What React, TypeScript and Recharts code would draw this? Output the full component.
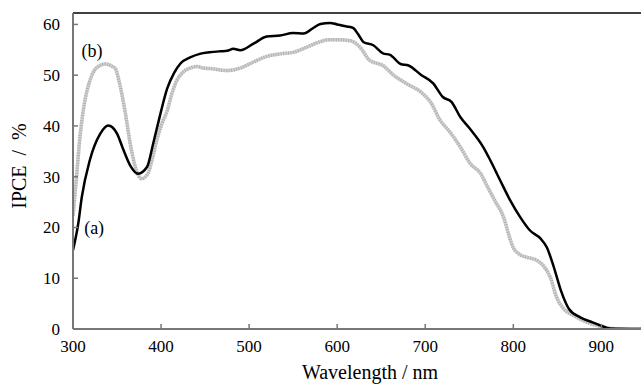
import React from 'react';
import { LineChart, Line, XAxis, YAxis, ReferenceLine, ReferenceDot } from 'recharts';

const waveA = [300, 306, 310, 319, 331, 340, 345, 350, 357, 365, 374, 384, 391, 398, 407, 415, 422, 433, 444, 455, 467, 475, 482, 490, 505, 520, 535, 550, 562, 572, 581, 592, 600, 611, 618, 624, 630, 641, 652, 660, 672, 681, 695, 709, 720, 730, 740, 751, 766, 774, 785, 796, 808, 819, 831, 838, 846, 854, 863, 876, 890, 899, 910, 945];
const ipceA = [15.5, 20.8, 26, 33.2, 38.5, 40.1, 39.7, 38.5, 35.4, 32.2, 30.6, 31.9, 36.5, 41.5, 47.4, 50.5, 52.3, 53.5, 54.2, 54.5, 54.7, 54.8, 55.2, 54.9, 56.2, 57.6, 57.8, 58.3, 58.2, 59.2, 60.1, 60.3, 60.0, 59.6, 59.3, 58.0, 56.5, 55.9, 54.3, 54.0, 52.2, 51.9, 50.1, 48.4, 45.7, 44.7, 41.7, 39.4, 35.8, 33.2, 29.3, 25.5, 22.0, 19.4, 17.8, 16.1, 12.2, 7.6, 4.0, 2.3, 1.3, 0.7, 0.1, 0];

const waveB = [300, 304, 308, 312, 316, 321, 327, 337, 344, 348, 353, 359, 365, 372, 378, 385, 390, 395, 401, 407, 412, 418, 425, 433, 441, 448, 456, 475, 490, 505, 520, 535, 550, 565, 581, 590, 600, 615, 626, 637, 652, 664, 679, 695, 706, 717, 728, 740, 751, 763, 771, 779, 789, 795, 800, 808, 816, 827, 834, 842, 849, 857, 868, 884, 899, 910, 945];
const ipceB = [22.3, 30, 38, 43.5, 47, 49.8, 51.5, 52.2, 51.8, 51.3, 48.3, 43, 36.5, 31.2, 29.6, 30.6, 33.5, 37.1, 40.5, 43, 46.2, 49, 50.6, 51.4, 51.7, 51.4, 51.3, 50.9, 51.4, 52.6, 53.7, 54.2, 54.5, 55.5, 56.6, 57.0, 57.0, 56.8, 55.5, 52.9, 51.9, 50.0, 48.3, 46.7, 44.7, 41.1, 38.8, 35.8, 32.6, 30.6, 27.9, 25.3, 22.0, 18.5, 16.0, 14.6, 14.1, 13.5, 12.5, 10.2, 6.3, 4.0, 2.7, 1.3, 0.5, 0.1, 0];

const xTicks = [300, 400, 500, 600, 700, 800, 900];
const yTicks = [0, 10, 20, 30, 40, 50, 60];

const dataA = waveA.map((w, i) => ({ w, v: ipceA[i] }));
const dataB = waveB.map((w, i) => ({ w, v: ipceB[i] }));

const FONT = "'Liberation Serif', 'Times New Roman', serif";
const AXIS = '#777777';
const txt: React.CSSProperties = { fontFamily: FONT };

const XTick = (props: any) => {
  const { x, y, payload } = props;
  return (
    <g>
      <line x1={x} y1={y} x2={x} y2={y - 5} stroke={AXIS} strokeWidth={1.5} />
      <text x={x} y={y + 23} textAnchor="middle" style={txt} fontSize={17} fill="#000">{payload.value}</text>
    </g>
  );
};

const YTick = (props: any) => {
  const { x, y, payload } = props;
  return (
    <g>
      {payload.value !== 0 && <line x1={x} y1={y} x2={x + 5} y2={y} stroke={AXIS} strokeWidth={1.5} />}
      <text x={x - 13} y={y + 6} textAnchor="end" style={txt} fontSize={17} fill="#000">{payload.value}</text>
    </g>
  );
};

export default function App() {
  return (
    <div style={{ position: 'absolute', left: 0, top: 0, width: 642, height: 386, background: '#fff', fontFamily: FONT }}>
      <LineChart width={642} height={386} margin={{ top: 13, right: 1, bottom: 0, left: 0 }} style={{ fontFamily: FONT }}>
        <XAxis
          type="number"
          dataKey="w"
          domain={[300, 945]}
          ticks={xTicks}
          allowDataOverflow
          axisLine={{ stroke: AXIS, strokeWidth: 2 }}
          tickLine={false}
          tickSize={0}
          tickMargin={0}
          height={57}
          tick={<XTick />}
          interval={0}
        />
        <YAxis
          type="number"
          dataKey="v"
          domain={[0, 62.25]}
          ticks={yTicks}
          allowDataOverflow
          axisLine={{ stroke: AXIS, strokeWidth: 2 }}
          tickLine={false}
          tickSize={0}
          tickMargin={0}
          width={73}
          tick={<YTick />}
          interval={0}
        />
        <ReferenceLine y={62.25} stroke="#000" strokeWidth={1.5} />
        <Line data={dataB} dataKey="v" type="monotone" stroke="#d2d2d2" strokeWidth={3.5} dot={false} isAnimationActive={false} />
        <Line data={dataB} dataKey="v" type="monotone" stroke="#b0b0b0" strokeWidth={3.5} strokeDasharray="1 1.5" dot={false} isAnimationActive={false} />
        <Line data={dataA} dataKey="v" type="monotone" stroke="#000" strokeWidth={2.5} dot={false} isAnimationActive={false} />
        <ReferenceDot x={321.5} y={54.9} r={0} fill="none" stroke="none" label={{ value: '(b)', position: 'center', style: txt, fontSize: 18, fill: '#000' }} />
        <ReferenceDot x={324} y={20.0} r={0} fill="none" stroke="none" label={{ value: '(a)', position: 'center', style: txt, fontSize: 18, fill: '#000' }} />
      </LineChart>
      <svg width={642} height={386} style={{ position: 'absolute', left: 0, top: 0, pointerEvents: 'none' }}>
        <text x={370} y={379} textAnchor="middle" style={txt} fontSize={20} fill="#000">Wavelength / nm</text>
        <text x={26} y={166} textAnchor="middle" style={txt} fontSize={20} fill="#000" wordSpacing={5} transform="rotate(-90 26 166)">IPCE / %</text>
      </svg>
    </div>
  );
}
